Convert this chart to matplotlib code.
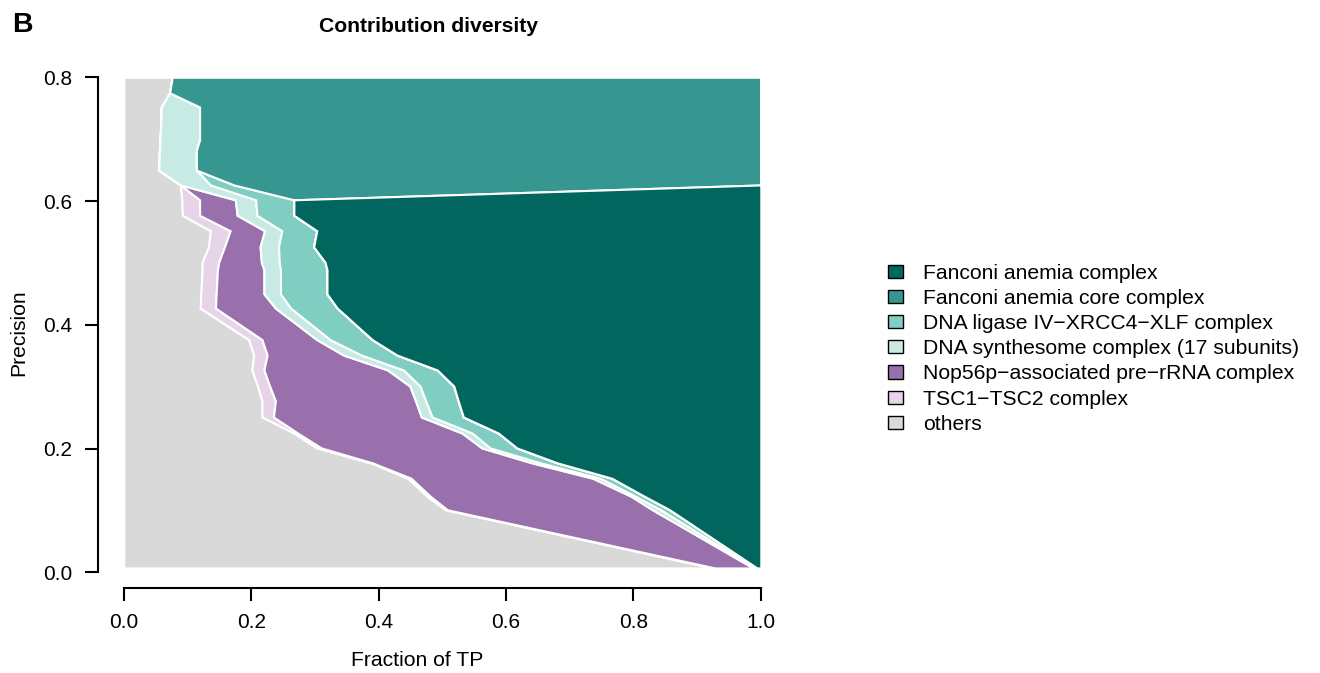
import numpy as np
import matplotlib
matplotlib.use("Agg")
import matplotlib.pyplot as plt
from matplotlib.patches import Patch

plt.rcParams['font.family'] = ['Liberation Sans', 'DejaVu Sans']

# Precision levels (y) and the share of true positives each group holds there
precision = [0.800, 0.775, 0.752, 0.699, 0.682, 0.650, 0.626, 0.602, 0.577, 0.552,
             0.526, 0.501, 0.489, 0.450, 0.427, 0.376, 0.351, 0.327, 0.301, 0.277,
             0.251, 0.225, 0.201, 0.177, 0.152, 0.123, 0.101, 0.007]

others = [0.076, 0.072, 0.059, 0.057, 0.056, 0.055, 0.089, 0.091, 0.092, 0.136,
          0.133, 0.123, 0.123, 0.121, 0.120, 0.196, 0.204, 0.201, 0.210, 0.217,
          0.217, 0.267, 0.303, 0.387, 0.446, 0.476, 0.505, 0.925]
tsc = [0, 0, 0, 0, 0, 0, 0, 0.028, 0.027, 0.031,
       0.025, 0.026, 0.024, 0.024, 0.024, 0.021, 0.021, 0.019, 0.019, 0.021,
       0.018, 0.006, 0.007, 0.003, 0.005, 0.005, 0.003, 0.003]
nop56p = [0, 0, 0, 0, 0, 0, 0, 0.056, 0.059, 0.054,
          0.056, 0.067, 0.073, 0.075, 0.094, 0.086, 0.120, 0.194, 0.220, 0.220,
          0.232, 0.258, 0.252, 0.250, 0.285, 0.315, 0.322, 0.060]
synthesome = [0, 0, 0.060, 0.062, 0.058, 0.059, 0.047, 0.032, 0.031, 0.027,
              0.029, 0.028, 0.026, 0.026, 0.024, 0.021, 0.028, 0.025, 0.016, 0.016,
              0.017, 0.016, 0.013, 0.014, 0.012, 0.007, 0.013, 0.003]
ligase = [0, 0, 0, 0, 0, 0, 0.037, 0.060, 0.058, 0.055,
          0.055, 0.072, 0.073, 0.073, 0.073, 0.066, 0.056, 0.053, 0.053, 0.051,
          0.049, 0.041, 0.042, 0.026, 0.018, 0.014, 0.014, 0.003]
fa_core = [0.924, 0.928, 0.881, 0.881, 0.886, 0.886, 0.827, 0, 0, 0,
           0, 0, 0, 0, 0, 0, 0, 0, 0, 0,
           0, 0, 0, 0, 0, 0, 0, 0]
fa_complex = [0, 0, 0, 0, 0, 0, 0, 0.733, 0.733, 0.697,
              0.702, 0.684, 0.681, 0.681, 0.665, 0.610, 0.571, 0.508, 0.482, 0.475,
              0.467, 0.412, 0.383, 0.320, 0.234, 0.183, 0.143, 0.006]

labels = ["others", "TSC1\u2212TSC2 complex", "Nop56p\u2212associated pre\u2212rRNA complex",
          "DNA synthesome complex (17 subunits)", "DNA ligase IV\u2212XRCC4\u2212XLF complex",
          "Fanconi anemia core complex", "Fanconi anemia complex"]
colors = ["#D9D9D9", "#E7D4E8", "#9970AB", "#C7EAE5", "#80CDC1", "#35978F", "#01665E"]
layers = [others, tsc, nop56p, synthesome, ligase, fa_core, fa_complex]

W, H = 1320, 673
fig = plt.figure(figsize=(W / 100, H / 100), dpi=100)
ax = fig.add_axes([98.3 / W, 1 - 588.3 / H, (786.3 - 98.3) / W, (588.3 - 57.6) / H])

y = np.array(precision)
left = np.zeros_like(y)
for vals, col in zip(layers, colors):
    right = left + np.array(vals)
    ax.fill_betweenx(y, left, right, facecolor=col, edgecolor="white",
                     linewidth=1.5, joinstyle="miter")
    left = right

ax.set_xlim(-0.04, 1.04)
ax.set_ylim(-0.0259, 0.8318)
for s in ("top", "right"):
    ax.spines[s].set_visible(False)
ax.spines["left"].set_bounds(0, 0.8)
ax.spines["bottom"].set_bounds(0, 1)
for s in ("left", "bottom"):
    ax.spines[s].set_linewidth(1.5)
ax.set_xticks([0, 0.2, 0.4, 0.6, 0.8, 1.0])
ax.set_yticks([0, 0.2, 0.4, 0.6, 0.8])
ax.xaxis.set_major_formatter(matplotlib.ticker.FormatStrFormatter("%.1f"))
ax.yaxis.set_major_formatter(matplotlib.ticker.FormatStrFormatter("%.1f"))
ax.tick_params(axis="both", direction="out", length=9.5, width=1.5, labelsize=15)
ax.tick_params(axis="x", pad=8)
ax.tick_params(axis="y", pad=9)

fig.text(417 / W, 1 - 666 / H, "Fraction of TP", ha="center", va="baseline", fontsize=15.2)
fig.text(19 / W, 1 - 333 / H, "Precision", ha="center", va="center", rotation=90, fontsize=15.2)
fig.text(428.5 / W, 1 - 31.7 / H, "Contribution diversity", ha="center", va="baseline",
         fontsize=15.2, fontweight="bold")
fig.text(12 / W, 1 - 32.3 / H, "B", ha="left", va="baseline", fontsize=20.5, fontweight="bold")

handles = [Patch(facecolor=c, edgecolor="black", linewidth=1.0) for c in colors]
fig.legend(handles[::-1], labels[::-1], loc="upper left",
           bbox_to_anchor=(888.3 / W, 1 - 264 / H), frameon=False, fontsize=15.2,
           handlelength=0.71, handleheight=0.58, handletextpad=0.92,
           labelspacing=0.29, borderpad=0, borderaxespad=0)

fig.savefig("out.png", dpi=100)
